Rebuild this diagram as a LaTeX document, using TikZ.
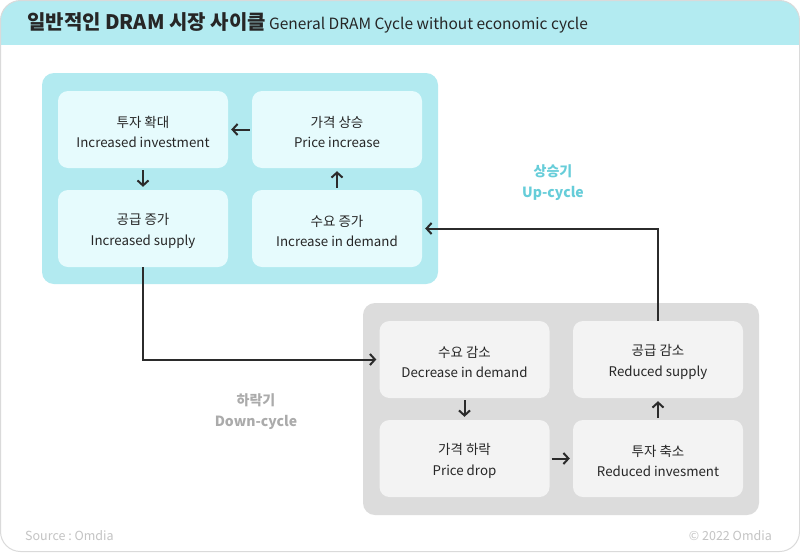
\documentclass[tikz,border=0pt]{standalone}
\usepackage{fontspec}
\setmainfont{Noto Sans CJK KR}
\usetikzlibrary{arrows.meta}
\definecolor{hdr}{HTML}{B3EBF1}
\definecolor{upbg}{HTML}{B2EAF0}
\definecolor{upin}{HTML}{E6FBFD}
\definecolor{dnbg}{HTML}{DCDCDC}
\definecolor{dnin}{HTML}{F3F3F3}
\definecolor{arrc}{HTML}{2B2B2B}
\definecolor{upt}{HTML}{66CDD9}
\definecolor{dnt}{HTML}{ABABAB}
\definecolor{foot}{HTML}{C4C4C4}
\definecolor{frame}{HTML}{DADADA}
\newcommand{\kor}[1]{{\fontsize{13.5}{20}\selectfont\rule{0pt}{16pt}#1}}
\tikzset{
  upbox/.style={fill=upin, rounded corners=10pt, minimum width=170pt, minimum height=77pt, align=center, inner sep=0pt, text=black!85, font=\fontsize{13.3}{20.5}\selectfont},
  dnbox/.style={upbox, fill=dnin},
  arr/.style={draw=arrc, line width=2pt, -{Straight Barb[length=5pt,width=11pt,line width=2pt]}},
  inarr/.style={arr, shorten <=2pt, shorten >=3pt},
  cyc/.style={font=\bfseries\fontsize{14}{21}\selectfont, align=center}
}
\begin{document}
\begin{tikzpicture}[x=1pt,y=-1pt]
\useasboundingbox (0,0) rectangle (800,552);
% frame and header
\begin{scope}
\clip[rounded corners=20pt] (0.5,0.5) rectangle (799.5,551.5);
\fill[white] (0,0) rectangle (800,552);
\fill[hdr] (0,0) rectangle (800,45);
\end{scope}
\draw[frame, line width=1pt, rounded corners=20pt] (0.5,0.5) rectangle (799.5,551.5);
\node[anchor=west, inner sep=0pt, text=black!85] (title) at (27,22.5)
  {{\bfseries\fontsize{20}{24}\selectfont 일반적인 DRAM 시장 사이클}\,\,{\fontsize{15.5}{18}\selectfont General DRAM Cycle without economic cycle}};
% containers
\fill[upbg, rounded corners=12pt] (42,73) rectangle (438,284);
\fill[dnbg, rounded corners=12pt] (363,303) rectangle (759,515);
% up-cycle boxes
\node[upbox] (inv) at (143,129.5) {\kor{투자 확대}\\Increased investment};
\node[upbox] (pinc) at (337,129.5) {\kor{가격 상승}\\Price increase};
\node[upbox] (isup) at (143,228.5) {\kor{공급 증가}\\Increased supply};
\node[upbox] (idem) at (337,228.5) {\kor{수요 증가}\\Increase in demand};
% down-cycle boxes
\node[dnbox] (ddem) at (464.5,359.5) {\kor{수요 감소}\\Decrease in demand};
\node[dnbox] (rsup) at (658,359.5) {\kor{공급 감소}\\Reduced supply};
\node[dnbox] (pdrop) at (464.5,458.5) {\kor{가격 하락}\\Price drop};
\node[dnbox] (rinv) at (658,458.5) {\kor{투자 축소}\\Reduced invesment};
% inner arrows
\draw[inarr] (pinc) -- (inv);
\draw[inarr] (inv) -- (isup);
\draw[inarr] (idem) -- (pinc);
\draw[inarr] (ddem) -- (pdrop);
\draw[inarr] (pdrop) -- (rinv);
\draw[inarr] (rinv) -- (rsup);
% cycle connectors
\draw[arr, shorten >=3pt] (isup.south) |- (ddem.west);
\draw[arr, shorten >=3pt] (rsup.north) |- (idem.east);
% labels
\node[cyc, text=upt] (uplab) at (553,182.5) {상승기\\Up-cycle};
\node[cyc, text=dnt] (dnlab) at (256,412) {하락기\\Down-cycle};
% footer
\node[anchor=west, inner sep=0pt, text=foot, font=\fontsize{12.5}{15}\selectfont] (src) at (25,536) {Source\ :\ Omdia};
\node[anchor=east, inner sep=0pt, text=foot, font=\fontsize{12.5}{15}\selectfont] (copy) at (772,536) {© 2022 Omdia};
\end{tikzpicture}
\end{document}
